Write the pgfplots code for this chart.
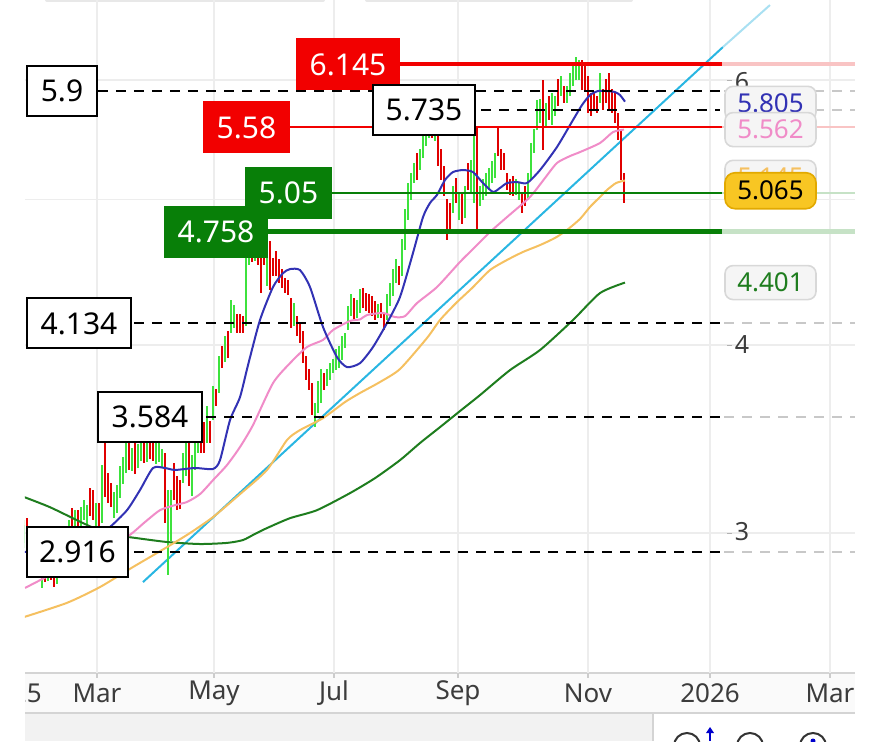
\documentclass[border=0pt]{standalone}
\usepackage{fontspec}
\setmainfont{Noto Sans}
\usepackage{pgfplots}
\pgfplotsset{compat=1.18}
\usepackage{pgfplotstable}

\definecolor{upc}{HTML}{3DE23D}
\definecolor{dnc}{HTML}{E00000}
\definecolor{ma5}{HTML}{3232B4}
\definecolor{ma10}{HTML}{F08CC8}
\definecolor{ma20}{HTML}{F5C060}
\definecolor{ma60}{HTML}{1E7D1E}
\definecolor{trend}{HTML}{29B6E2}
\definecolor{trendl}{HTML}{A9E0F2}
\definecolor{lvred}{HTML}{F20000}
\definecolor{lvredl}{HTML}{F9C4C4}
\definecolor{lvgreen}{HTML}{087F08}
\definecolor{lvgreenl}{HTML}{C6E2C6}
\definecolor{dashl}{HTML}{C8C8C8}
\definecolor{gridc}{HTML}{EDEDED}
\definecolor{boxbg}{HTML}{F5F5F5}
\definecolor{boxbd}{HTML}{D8D8D8}
\definecolor{yel}{HTML}{F8C623}
\definecolor{yelbd}{HTML}{E2A900}
\definecolor{txt}{HTML}{3C3C3C}

% daily candles: x position, open, high, low, close
\pgfplotstableread{
x o h l c
24 2.955 3.060 2.932 3.037
27 3.051 3.069 2.986 3.005
30 3.005 3.023 2.923 2.945
33 2.932 3.000 2.914 2.977
36 2.968 2.991 2.878 2.896
39 2.896 2.914 2.813 2.835
42 2.792 2.844 2.758 2.826
45 2.826 2.844 2.783 2.801
48 2.801 2.869 2.788 2.852
51 2.852 2.878 2.792 2.805
54 2.805 2.818 2.762 2.783
57 2.792 2.878 2.775 2.856
60 2.856 2.923 2.844 2.900
63 2.900 2.932 2.856 2.878
66 2.878 2.968 2.865 2.945
69 2.945 3.060 2.932 3.037
72 3.098 3.117 3.028 3.046
75 3.037 3.107 3.014 3.084
78 3.084 3.107 3.014 3.037
81 3.037 3.121 3.023 3.098
84 3.084 3.155 3.060 3.131
87 3.060 3.131 3.042 3.107
90 3.189 3.214 3.079 3.093
93 3.180 3.204 3.060 3.084
96 3.051 3.141 3.032 3.117
99 3.121 3.141 3.014 3.028
102 3.060 3.329 3.046 3.304
105 3.422 3.443 3.170 3.189
108 3.268 3.289 3.141 3.155
111 3.219 3.238 3.121 3.141
114 3.084 3.194 3.069 3.170
117 3.107 3.228 3.093 3.204
120 3.180 3.324 3.165 3.304
123 3.253 3.369 3.233 3.344
126 3.304 3.443 3.289 3.422
129 3.422 3.443 3.304 3.319
132 3.314 3.417 3.299 3.396
135 3.443 3.459 3.284 3.304
138 3.329 3.438 3.314 3.417
141 3.364 3.459 3.349 3.432
144 3.443 3.459 3.339 3.354
147 3.364 3.454 3.344 3.432
150 3.432 3.454 3.359 3.380
153 3.443 3.459 3.349 3.369
156 3.354 3.443 3.334 3.422
159 3.364 3.454 3.344 3.432
162 3.339 3.411 3.319 3.390
165 3.369 3.390 3.046 3.060
168 2.968 3.204 2.813 3.180
171 2.982 3.204 2.964 3.180
174 3.319 3.339 3.155 3.170
177 3.253 3.273 3.107 3.121
180 3.228 3.253 3.112 3.131
183 3.253 3.390 3.238 3.369
186 3.289 3.443 3.273 3.422
189 3.443 3.464 3.223 3.238
192 3.189 3.380 3.175 3.354
195 3.319 3.539 3.304 3.406
198 3.406 3.544 3.390 3.523
201 3.512 3.533 3.390 3.406
204 3.512 3.555 3.390 3.406
207 3.459 3.643 3.443 3.621
210 3.539 3.561 3.443 3.459
213 3.583 3.757 3.566 3.734
216 3.717 3.740 3.643 3.660
219 3.734 3.933 3.717 3.909
222 3.970 3.994 3.862 3.879
225 3.909 4.056 3.897 4.031
228 4.062 4.087 3.921 3.939
231 4.093 4.285 4.074 4.252
234 4.124 4.252 4.105 4.220
237 4.169 4.194 4.074 4.093
240 4.169 4.194 4.074 4.093
243 4.156 4.181 4.074 4.093
246 4.137 4.626 4.118 4.542
249 4.542 4.697 4.521 4.626
252 4.640 4.712 4.542 4.570
255 4.570 4.726 4.549 4.661
258 4.661 4.697 4.521 4.542
261 4.542 4.570 4.331 4.351
264 4.661 4.697 4.521 4.542
267 4.398 4.570 4.378 4.542
270 4.661 4.690 4.351 4.500
273 4.542 4.570 4.445 4.465
276 4.591 4.619 4.445 4.465
279 4.535 4.563 4.398 4.418
282 4.465 4.493 4.364 4.384
285 4.404 4.431 4.331 4.351
288 4.391 4.418 4.318 4.338
291 4.272 4.298 4.105 4.124
294 4.137 4.265 4.118 4.240
297 4.156 4.181 4.056 4.074
300 4.112 4.137 4.012 4.031
303 4.062 4.087 3.891 3.909
306 3.909 3.933 3.791 3.809
309 3.832 3.856 3.734 3.751
312 3.751 3.774 3.594 3.610
315 3.577 3.660 3.528 3.638
318 3.621 3.786 3.605 3.763
321 3.677 3.856 3.660 3.832
324 3.809 3.832 3.734 3.751
327 3.774 3.856 3.757 3.832
330 3.809 3.891 3.791 3.868
333 3.850 3.915 3.832 3.891
336 3.868 3.976 3.850 3.952
339 3.879 3.994 3.862 3.970
342 3.927 4.056 3.909 4.031
345 4.000 4.074 3.982 4.049
348 4.112 4.246 4.093 4.220
351 4.201 4.324 4.181 4.298
354 4.272 4.298 4.156 4.175
357 4.188 4.285 4.169 4.252
360 4.220 4.358 4.201 4.331
363 4.338 4.364 4.233 4.252
366 4.305 4.331 4.214 4.233
369 4.298 4.324 4.201 4.220
372 4.285 4.311 4.181 4.201
375 4.252 4.278 4.156 4.175
378 4.188 4.259 4.169 4.233
381 4.240 4.265 4.169 4.188
384 4.175 4.201 4.093 4.112
387 4.175 4.324 4.156 4.298
390 4.265 4.398 4.246 4.371
393 4.331 4.493 4.311 4.465
396 4.418 4.563 4.398 4.535
399 4.486 4.514 4.384 4.404
402 4.465 4.705 4.445 4.676
405 4.647 4.926 4.626 4.895
408 4.865 5.125 4.843 5.095
411 5.017 5.204 4.994 5.173
414 5.149 5.285 5.125 5.253
417 5.333 5.366 5.149 5.173
420 5.253 5.399 5.228 5.366
423 5.350 5.508 5.325 5.474
426 5.449 5.575 5.424 5.532
429 5.515 5.618 5.491 5.575
432 5.575 5.609 5.491 5.515
435 5.491 5.592 5.466 5.558
438 5.491 5.524 5.261 5.285
441 5.366 5.399 5.149 5.173
444 5.228 5.261 5.025 5.048
447 4.971 5.002 4.697 4.770
450 4.941 4.971 4.770 4.792
453 4.918 5.102 4.895 5.071
456 5.133 5.165 4.971 4.994
459 4.865 5.048 4.843 5.017
462 5.017 5.048 4.813 4.843
465 4.880 5.102 4.858 5.071
468 5.253 5.285 5.071 5.095
471 5.071 5.309 5.048 5.269
474 4.994 5.558 4.971 5.499
477 5.558 5.583 4.748 4.770
480 4.971 5.102 4.948 5.071
483 5.017 5.157 4.994 5.125
486 5.048 5.204 5.025 5.173
489 5.095 5.244 5.071 5.212
492 5.149 5.301 5.125 5.269
495 5.188 5.366 5.165 5.325
498 5.449 5.583 5.341 5.366
501 5.366 5.399 5.228 5.253
504 5.333 5.366 5.228 5.253
507 5.173 5.204 5.071 5.095
510 5.125 5.157 5.033 5.056
513 5.149 5.181 5.025 5.048
516 5.056 5.157 5.033 5.125
519 5.017 5.125 4.994 5.095
522 5.017 5.048 4.895 4.918
525 5.071 5.102 4.948 4.971
528 5.017 5.204 4.994 5.173
531 5.173 5.449 5.149 5.416
534 5.391 5.566 5.366 5.532
537 5.583 5.819 5.558 5.775
540 5.644 5.828 5.618 5.793
543 5.731 6.000 5.391 5.416
546 5.618 5.793 5.592 5.748
549 5.819 5.855 5.644 5.670
552 5.627 5.882 5.600 5.846
555 5.705 5.855 5.679 5.819
558 5.973 6.009 5.766 5.793
561 5.882 6.037 5.855 6.000
564 5.910 5.946 5.793 5.819
567 5.819 5.946 5.793 5.910
570 5.882 6.066 5.855 6.028
573 5.973 6.150 5.946 6.113
576 6.028 6.215 6.000 6.159
579 6.028 6.187 6.000 6.159
582 6.159 6.187 5.910 5.937
585 6.094 6.131 5.910 5.937
588 6.000 6.037 5.705 5.731
591 5.846 5.882 5.679 5.705
594 5.846 5.882 5.731 5.757
597 5.819 5.855 5.705 5.731
600 5.819 6.066 5.793 6.028
603 5.882 5.919 5.731 5.757
606 5.973 6.009 5.793 5.819
609 6.028 6.066 5.731 5.757
612 5.882 5.919 5.705 5.731
615 5.846 5.882 5.618 5.644
618 5.670 5.705 5.474 5.499
621 5.532 5.566 5.149 5.173
624 5.173 5.204 4.971 5.065
}\candles

\pgfplotstableread{
x p
24 2.914
50 2.932
80 2.968
100 3.005
110 3.028
127 3.107
140 3.204
153 3.314
165 3.314
175 3.304
195 3.314
213 3.309
220 3.354
230 3.566
240 3.694
248 3.879
260 4.156
273 4.371
283 4.465
290 4.493
300 4.486
310 4.371
323 4.112
337 3.927
347 3.868
360 3.891
373 3.988
387 4.137
400 4.305
413 4.605
423 4.865
430 4.971
437 5.033
445 5.149
453 5.212
463 5.228
473 5.212
483 5.125
493 5.056
500 5.087
507 5.125
517 5.133
527 5.125
540 5.228
557 5.416
573 5.644
582 5.775
590 5.864
598 5.900
607 5.900
615 5.891
620 5.864
625 5.805
}\maA

\pgfplotstableread{
x p
25 2.758
60 2.835
95 2.909
127 2.982
145 3.051
160 3.107
175 3.131
187 3.146
200 3.184
213 3.253
227 3.329
240 3.422
253 3.539
273 3.774
290 3.891
307 3.988
323 4.031
333 4.093
350 4.150
360 4.160
367 4.188
383 4.201
395 4.175
405 4.181
417 4.265
437 4.371
460 4.542
473 4.633
490 4.755
507 4.865
530 5.017
545 5.165
557 5.285
570 5.341
580 5.374
600 5.449
613 5.541
624 5.562
}\maB

\pgfplotstableread{
x p
24 2.638
67 2.696
100 2.762
133 2.848
167 2.936
190 3.000
213 3.074
240 3.184
267 3.304
287 3.459
300 3.512
323 3.577
345 3.666
360 3.717
380 3.780
400 3.856
427 4.043
440 4.156
456 4.265
472 4.364
490 4.486
507 4.556
523 4.612
540 4.661
555 4.712
567 4.770
580 4.851
590 4.941
600 5.017
607 5.071
616 5.125
625 5.145
}\maC

\pgfplotstableread{
x p
24 3.170
50 3.121
83 3.046
110 2.991
128 2.982
167 2.959
200 2.950
227 2.955
243 2.968
255 2.996
267 3.023
290 3.069
317 3.107
350 3.189
375 3.263
400 3.354
420 3.443
440 3.528
460 3.616
480 3.705
510 3.850
540 3.970
573 4.156
600 4.331
625 4.401
}\maD

\newcommand\hl[4][]{\addplot[#1] table[row sep=\\, x=x, y expr={ln(\thisrow{p})}] {x p\\ #2 #4\\ #3 #4\\};}

\tikzset{
  lbw/.style={draw=black, line width=1pt, fill=white, minimum height=25pt, inner sep=0pt, font=\fontsize{15}{18}\selectfont},
  lbr/.style={fill=lvred, text=white, minimum height=26pt, inner sep=0pt, font=\fontsize{15}{18}\selectfont},
  lbg/.style={fill=lvgreen, text=white, minimum height=26pt, inner sep=0pt, font=\fontsize{15}{18}\selectfont},
  rl/.style={rounded corners=4pt, fill=boxbg, draw=boxbd, line width=0.8pt, minimum width=45.5pt, minimum height=17pt, inner sep=0pt, font=\fontsize{13}{15}\selectfont},
}
\pgfplotsset{
  candle/.style 2 args={draw=none, mark=none, forget plot,
    /pgfplots/error bars/y dir=both,
    /pgfplots/error bars/y explicit,
    /pgfplots/error bars/error mark=none,
    /pgfplots/error bars/error bar style={draw=#1, line width=#2, solid}},
}

\begin{document}
\begin{tikzpicture}
\useasboundingbox (0,0) rectangle (440pt,370.5pt);
\begin{scope}[x=0.5pt, y=-0.5pt, yshift=370.5pt]
  % top tabs
  \fill[black!9, rounded corners=1pt] (45,-4) rectangle (325,2);
  \fill[black!9, rounded corners=1pt] (365,-4) rectangle (633,2);
  % date strip
  \fill[black!2] (25,673) rectangle (855,713);
  \fill[black!5] (25,713) rectangle (652,741);
  \draw[black!17, line width=1pt] (25,673) -- (855,673);
  \draw[black!17, line width=1pt] (25,713) -- (855,713);
  \draw[black!17, line width=1pt] (653,713) -- (653,741);
\end{scope}

\begin{axis}[
  at={(12.5pt,34pt)}, anchor=south west,
  scale only axis, width=415pt, height=336.5pt,
  xmin=25, xmax=855, ymin=0.884383, ymax=1.914225,
  axis line style={draw=none}, tick style={draw=none},
  xtick={97,214,334,458,588,710,830},
  ytick={1.098612,1.386294,1.609438,1.791759},
  xticklabels={}, yticklabels={},
  grid=major, grid style={gridc, line width=0.6pt},
  clip mode=individual,
]
% trend line
\addplot[trend, line width=1pt] table[row sep=\\, x=x, y expr={ln(\thisrow{p})}] {x p\\ 143 2.783\\ 723 6.311\\};
\addplot[trendl, line width=1pt] table[row sep=\\, x=x, y expr={ln(\thisrow{p})}] {x p\\ 723 6.311\\ 770 6.730\\};

% candles: wicks
\addplot[restrict expr to domain={\thisrow{c}-\thisrow{o}}{0:10}, candle={upc}{0.55pt}]
  table[x=x, y expr={(ln(\thisrow{h})+ln(\thisrow{l}))/2}, y error expr={(ln(\thisrow{h})-ln(\thisrow{l}))/2}] {\candles};
\addplot[restrict expr to domain={\thisrow{c}-\thisrow{o}}{-10:-0.00001}, candle={dnc}{0.55pt}]
  table[x=x, y expr={(ln(\thisrow{h})+ln(\thisrow{l}))/2}, y error expr={(ln(\thisrow{h})-ln(\thisrow{l}))/2}] {\candles};
% candles: bodies
\addplot[restrict expr to domain={\thisrow{c}-\thisrow{o}}{0:10}, candle={upc}{1.25pt}]
  table[x=x, y expr={(ln(\thisrow{o})+ln(\thisrow{c}))/2}, y error expr={max(abs(ln(\thisrow{c})-ln(\thisrow{o}))/2,0.0008)}] {\candles};
\addplot[restrict expr to domain={\thisrow{c}-\thisrow{o}}{-10:-0.00001}, candle={dnc}{1.25pt}]
  table[x=x, y expr={(ln(\thisrow{o})+ln(\thisrow{c}))/2}, y error expr={max(abs(ln(\thisrow{c})-ln(\thisrow{o}))/2,0.0008)}] {\candles};

% moving averages
\addplot[ma60, line width=1pt, smooth, tension=0.4] table[x=x, y expr={ln(\thisrow{p})}] {\maD};
\addplot[ma20, line width=1pt, smooth, tension=0.4] table[x=x, y expr={ln(\thisrow{p})}] {\maC};
\addplot[ma10, line width=1pt, smooth, tension=0.4] table[x=x, y expr={ln(\thisrow{p})}] {\maB};
\addplot[ma5, line width=1pt, smooth, tension=0.4] table[x=x, y expr={ln(\thisrow{p})}] {\maA};

% price levels
\hl[black, line width=1pt, dash pattern=on 5pt off 4pt]{26}{720}{5.9}
\hl[dashl, line width=1pt, dash pattern=on 5pt off 4pt]{724}{855}{5.9}
\hl[black, line width=1pt, dash pattern=on 5pt off 4pt]{373}{720}{5.735}
\hl[dashl, line width=1pt, dash pattern=on 5pt off 4pt]{724}{855}{5.735}
\hl[black, line width=1pt, dash pattern=on 5pt off 4pt]{26}{720}{4.134}
\hl[dashl, line width=1pt, dash pattern=on 5pt off 4pt]{724}{855}{4.134}
\hl[black, line width=1pt, dash pattern=on 5pt off 4pt]{98}{720}{3.584}
\hl[dashl, line width=1pt, dash pattern=on 5pt off 4pt]{724}{855}{3.584}
\hl[black, line width=1pt, dash pattern=on 5pt off 4pt]{26}{720}{2.916}
\hl[dashl, line width=1pt, dash pattern=on 5pt off 4pt]{724}{855}{2.916}
\hl[lvred, line width=2pt]{350}{722}{6.145}
\hl[lvredl, line width=2pt]{722}{855}{6.145}
\hl[lvred, line width=1pt]{250}{722}{5.58}
\hl[lvredl, line width=1pt]{722}{855}{5.58}
\hl[lvgreen, line width=1pt]{290}{722}{5.05}
\hl[lvgreenl, line width=1pt]{722}{855}{5.05}
\hl[lvgreen, line width=2.2pt]{220}{722}{4.758}
\hl[lvgreenl, line width=2.2pt]{722}{855}{4.758}

% price axis labels
\node[text=txt, font=\fontsize{12.5}{14}\selectfont] at (axis cs:742,{ln(6)-0.003}) {6};
\node[text=txt, font=\fontsize{12.5}{14}\selectfont] at (axis cs:742,{ln(4)}) {4};
\node[text=txt, font=\fontsize{12.5}{14}\selectfont] at (axis cs:742,{ln(3)+0.002}) {3};
\draw[black!30, line width=0.5pt] (axis cs:727,{ln(6)}) -- (axis cs:732,{ln(6)});
\draw[black!30, line width=0.5pt] (axis cs:727,{ln(4)}) -- (axis cs:732,{ln(4)});
\draw[black!30, line width=0.5pt] (axis cs:727,{ln(3)}) -- (axis cs:732,{ln(3)});

% level tags
\node[lbr, minimum width=52pt] at (axis cs:348,{ln(6.145)}) {6.145};
\node[lbw, minimum width=35pt] at (axis cs:62,{ln(5.9)}) {5.9};
\node[lbw, minimum width=51pt] at (axis cs:424,{ln(5.735)}) {5.735};
\node[lbr, minimum width=43.5pt] at (axis cs:246.5,{ln(5.58)}) {5.58};
\node[lbg, minimum width=43.5pt] at (axis cs:288.5,{ln(5.05)}) {5.05};
\node[lbg, minimum width=52pt] at (axis cs:216,{ln(4.758)}) {4.758};
\node[lbw, minimum width=52pt] at (axis cs:79,{ln(4.134)}) {4.134};
\node[lbw, minimum width=52pt] at (axis cs:150,{ln(3.584)}) {3.584};
\node[lbw, minimum width=50.5pt] at (axis cs:77.5,{ln(2.916)}) {2.916};

% value tags on the right
\node[rl, text=ma5] at (axis cs:770.5,{ln(5.79)}) {5.805};
\node[rl, text=ma10] at (axis cs:770.5,{ln(5.562)}) {5.562};
\node[rl, text=ma20] at (axis cs:770.5,{ln(5.17)}) {5.145};
\node[rl, fill=yel, draw=yelbd, text=black, minimum height=18pt, rounded corners=5pt] at (axis cs:770.5,{ln(5.065)}) {5.065};
\node[rl, text=ma60] at (axis cs:770.5,{ln(4.401)}) {4.401};
\end{axis}

\begin{scope}[x=0.5pt, y=-0.5pt, yshift=370.5pt]
  \foreach \t in {97,214,334,458,588,710,830} {\draw[black!20, line width=0.6pt] (\t,673) -- (\t,678);}
  \begin{scope}
    \clip (25,673) rectangle (855,713);
    \node[text=txt, font=\bfseries\fontsize{13}{15}\selectfont] at (12,693) {2025};
  \end{scope}
  \node[text=txt, font=\fontsize{13}{15}\selectfont] at (97,693) {Mar};
  \node[text=txt, font=\fontsize{13}{15}\selectfont] at (214,693) {May};
  \node[text=txt, font=\fontsize{13}{15}\selectfont] at (334,693) {Jul};
  \node[text=txt, font=\fontsize{13}{15}\selectfont] at (458,693) {Sep};
  \node[text=txt, font=\fontsize{13}{15}\selectfont] at (588,693) {Nov};
  \node[text=txt, font=\bfseries\fontsize{13}{15}\selectfont] at (710,693) {2026};
  \node[text=txt, font=\fontsize{13}{15}\selectfont] at (830,693) {Mar};
  % toolbar icons (partly visible)
  \draw[black!80, line width=1pt] (687,746) circle (13);
  \draw[black!80, line width=1pt] (750,746) circle (13);
  \draw[black!80, line width=1pt] (813,746) circle (13);
  \draw[blue!80!black, line width=1pt] (710,741) -- (710,731);
  \fill[blue!80!black] (706,733) -- (710,727) -- (714,733) -- cycle;
  \fill[blue!80!black] (813,741) circle (2.5);
\end{scope}
\end{tikzpicture}
\end{document}
